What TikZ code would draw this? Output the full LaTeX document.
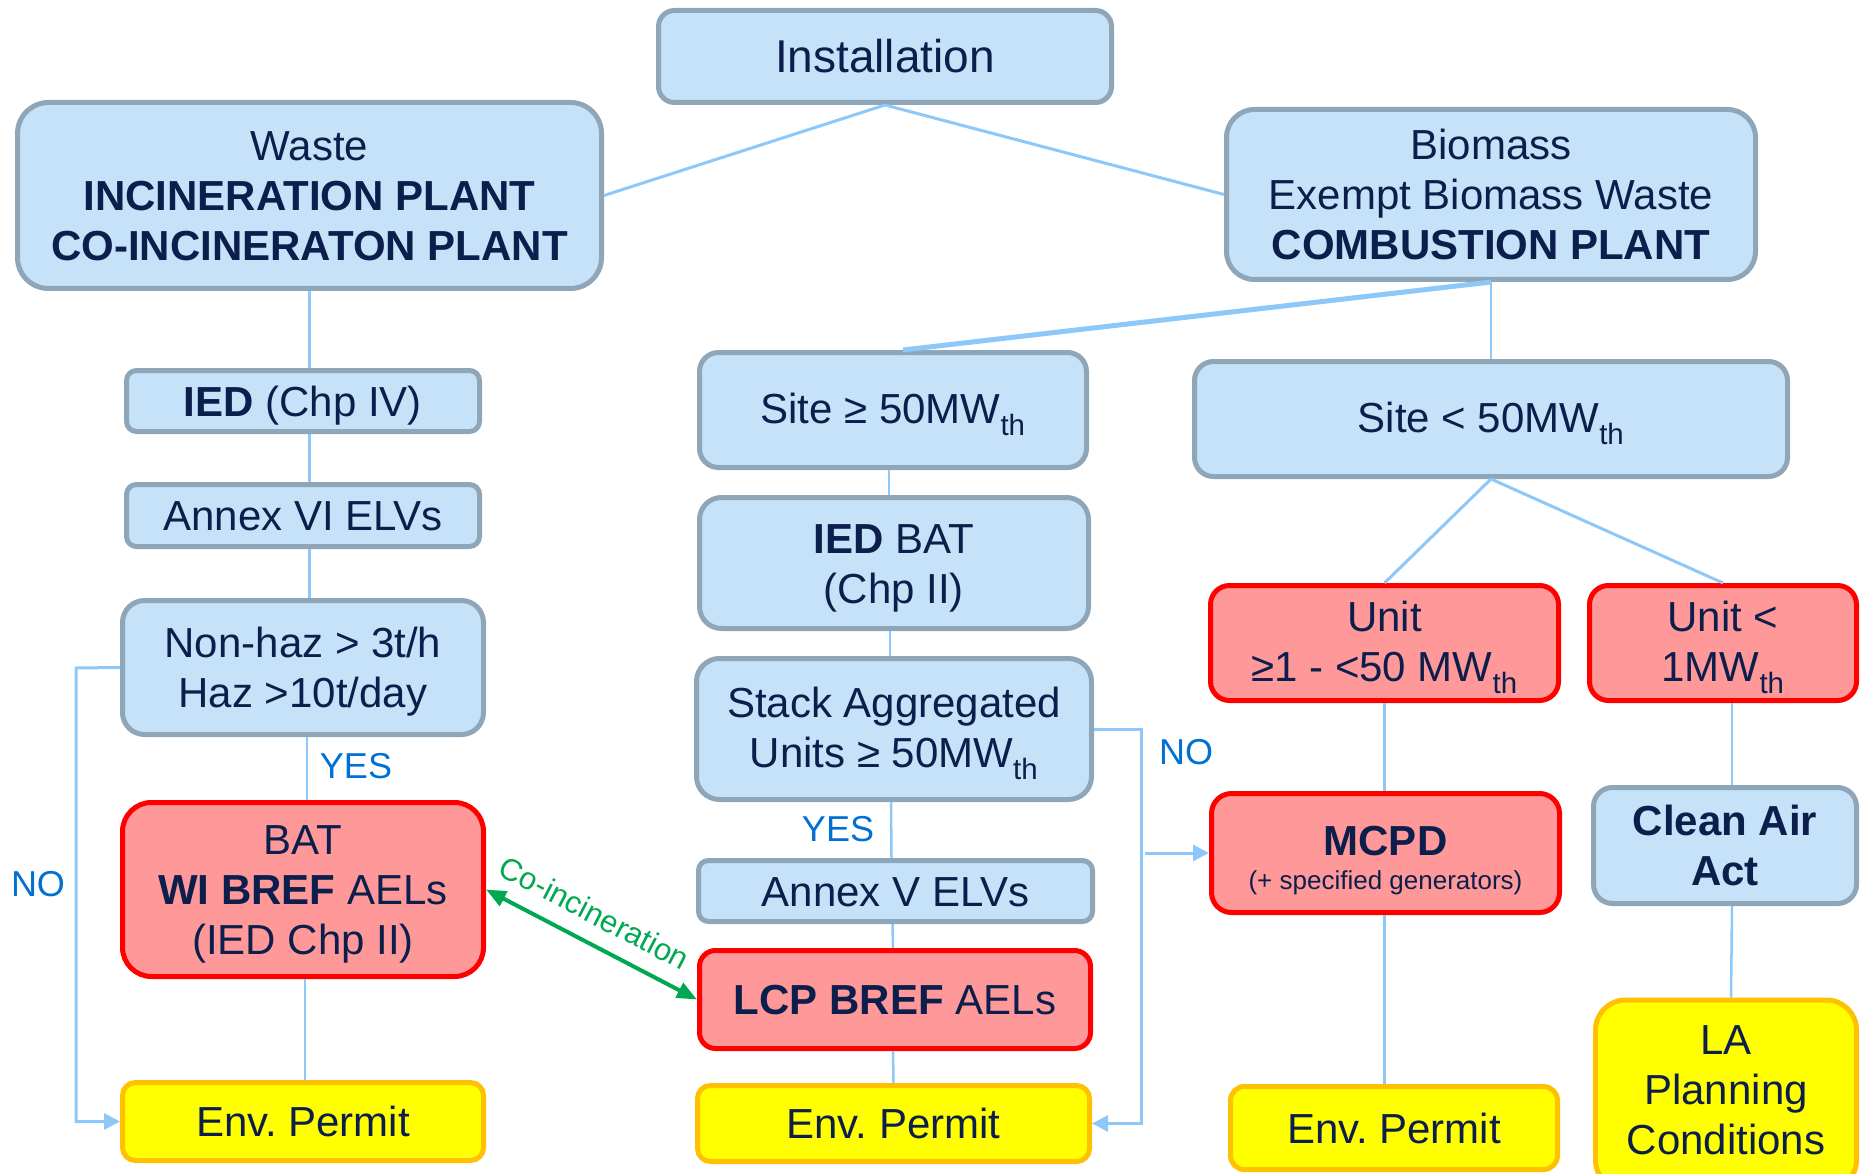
\documentclass[tikz,border=0pt]{standalone}
\usepackage{fontspec}
\setmainfont{Liberation Sans}
\usetikzlibrary{arrows.meta,calc}
\definecolor{bfill}{RGB}{197,226,248}
\definecolor{bdraw}{RGB}{143,165,184}
\definecolor{rfill}{RGB}{255,153,153}
\definecolor{rdraw}{RGB}{255,0,0}
\definecolor{yfill}{RGB}{255,255,0}
\definecolor{ydraw}{RGB}{255,192,0}
\definecolor{lconn}{RGB}{142,200,248}
\definecolor{lblue}{RGB}{0,112,210}
\definecolor{gline}{RGB}{0,168,80}
\definecolor{navy}{RGB}{12,30,75}
\newcommand\ttop[1][39]{\rule{0pt}{#1pt}}
\newcommand\tbot{\rule[-9pt]{0pt}{0pt}}
\tikzset{
  base/.style={draw, line width=5pt, align=center, inner sep=0pt, text=navy,
    font=\fontsize{42}{50}\selectfont},
  bluebox/.style={base, fill=bfill, draw=bdraw},
  redbox/.style={base, fill=rfill, draw=rdraw},
  yelbox/.style={base, fill=yfill, draw=ydraw},
  conn/.style={draw=lconn, line width=3pt},
  vconn/.style={draw=lconn, line width=2.5pt},
  arr/.style={conn, -{Triangle[length=16pt,width=16pt]}},
  lab/.style={text=lblue, font=\fontsize{36}{40}\selectfont, inner sep=0pt},
  sz/.style n args={3}{minimum width=#1pt, minimum height=#2pt, rounded corners=#3pt},
}
\begin{document}
\begin{tikzpicture}[x=1pt,y=-1pt]
\path[use as bounding box] (0,0) rectangle (1863,1174);
\clip (0,0) rectangle (1863,1174);
% boxes
\node[bluebox, sz={453}{92}{16}, font=\fontsize{46}{52}\selectfont] (inst) at (885,56.5) {\ttop[42]Installation\tbot};
\node[bluebox, sz={584}{186}{31}] (waste) at (309.5,195.5) {\ttop Waste\\\textbf{INCINERATION PLANT}\\\textbf{CO-INCINERATON PLANT}\tbot};
\node[bluebox, sz={529}{170}{28}] (bio) at (1491,194.5) {\ttop Biomass\\Exempt Biomass Waste\\\textbf{COMBUSTION PLANT}\tbot};
\node[bluebox, sz={353}{61}{10}] (ied) at (303,401) {\ttop\textbf{IED} (Chp IV)\tbot};
\node[bluebox, sz={353}{62}{10}] (annexvi) at (303,515.5) {\ttop Annex VI ELVs\tbot};
\node[bluebox, sz={361}{134}{22}] (nonhaz) at (303,667.5) {\ttop Non-haz > 3t/h\\Haz >10t/day\tbot};
\node[redbox, sz={361}{174}{29}] (bat) at (303,889.5) {\ttop BAT\\\textbf{WI BREF} AELs\\(IED Chp II)\tbot};
\node[yelbox, sz={361}{78}{13}] (envl) at (303,1121.5) {\ttop Env.\ Permit\tbot};
\node[bluebox, sz={387}{115}{19}] (site50) at (893,410) {\ttop Site ≥ 50MW\textsubscript{th}\tbot};
\node[bluebox, sz={389}{131}{22}] (iedbat) at (894,563) {\ttop\textbf{IED} BAT\\(Chp II)\tbot};
\node[bluebox, sz={395}{141}{23}] (stack) at (894,729) {\ttop Stack Aggregated\\Units ≥ 50MW\textsubscript{th}\tbot};
\node[bluebox, sz={394}{61}{10}] (annexv) at (895.5,891) {\ttop Annex V ELVs\tbot};
\node[redbox, sz={391}{98}{16}] (lcp) at (895,999.5) {\ttop\textbf{LCP BREF} AELs\tbot};
\node[yelbox, sz={392}{76}{13}] (envm) at (893.5,1123.5) {\ttop Env.\ Permit\tbot};
\node[bluebox, sz={593}{115}{19}] (sitelt) at (1491,419) {\ttop Site < 50MW\textsubscript{th}\tbot};
\node[redbox, sz={348}{115}{19}] (unit1) at (1384.5,643) {\ttop Unit\\≥1 - <50 MW\textsubscript{th}\tbot};
\node[redbox, sz={267}{115}{19}] (unit2) at (1723,643) {\ttop Unit <\\1MW\textsubscript{th}\tbot};
\node[redbox, sz={348}{119}{20}] (mcpd) at (1385.5,853) {\ttop[47]\textbf{MCPD}\\[-16pt]{\fontsize{26}{30}\selectfont (+ specified generators)}\tbot};
\node[bluebox, sz={263}{116}{19}] (caa) at (1725,845.5) {\ttop\textbf{Clean Air}\\\textbf{Act}\tbot};
\node[yelbox, sz={327}{83}{14}] (envr) at (1394,1128) {\ttop Env.\ Permit\tbot};
\node[yelbox, sz={261}{190}{30}] (la) at (1726,1095) {\ttop[23]LA\\Planning\\Conditions\tbot};
% connectors
\draw[conn] (inst.south) -- (waste.east);
\draw[conn] (inst.south) -- (bio.west);
\draw[conn, line width=5pt] (bio.south) -- ($(site50.north)+(10,0)$);
\draw[vconn] (bio.south) -- (sitelt.north);
\draw[conn] (sitelt.south) -- (unit1.north);
\draw[conn] (sitelt.south) -- (unit2.north);
\draw[vconn] (waste.south) -- (waste.south |- ied.north);
\draw[vconn] (waste.south |- ied.south) -- (waste.south |- annexvi.north);
\draw[vconn] (waste.south |- annexvi.south) -- (waste.south |- nonhaz.north);
\draw[vconn] ($(nonhaz.south)+(4,0)$) -- ($(bat.north)+(4,0)$);
\draw[vconn] ($(bat.south)+(2,0)$) -- ($(envl.north)+(2,0)$);
\draw[vconn] ($(site50.south)+(-4,0)$) -- ($(iedbat.north)+(-5,0)$);
\draw[vconn] ($(iedbat.south)+(-4,0)$) -- ($(stack.north)+(-4,0)$);
\draw[vconn] ($(stack.south)+(-3,0)$) -- ($(annexv.north)+(-4,0)$);
\draw[vconn] ($(annexv.south)+(-3,0)$) -- ($(lcp.north)+(-2,0)$);
\draw[vconn] ($(lcp.south)+(-2,0)$) -- (envm.north);
\draw[vconn] (unit1.south) -- (mcpd.north -| unit1.south);
\draw[vconn] (mcpd.south -| unit1.south) -- (envr.north -| unit1.south);
\draw[vconn] ($(unit2.south)+(9,0)$) -- ($(caa.north)+(7,0)$);
\draw[vconn] ($(caa.south)+(7,0)$) -- ($(la.north)+(5,0)$);
\coordinate (noL) at (76,668);
\draw[arr] (nonhaz.west) -- (noL) -- (noL |- envl.west) -- (envl.west);
\coordinate (noR) at (1141,729);
\draw[arr] (stack.east) -- (noR) -- (noR |- envm.east) -- (envm.east);
\coordinate (noRb) at (1145,853);
\draw[arr] (noRb) -- (mcpd.west);
\draw[draw=gline, line width=4pt, {Triangle[length=20pt,width=16pt]}-{Triangle[length=20pt,width=16pt]}] (bat.east) -- (lcp.west)
  node[pos=0.45, sloped, above=16pt, text=gline, font=\fontsize{31}{34}\selectfont, inner sep=0pt] (coinc) {Co-incineration};
% labels
\node[lab] (yesl) at (356,766) {YES};
\node[lab] (nol) at (38,884) {NO};
\node[lab] (yesm) at (838,829) {YES};
\node[lab] (nor) at (1186,752) {NO};
\end{tikzpicture}
\end{document}
